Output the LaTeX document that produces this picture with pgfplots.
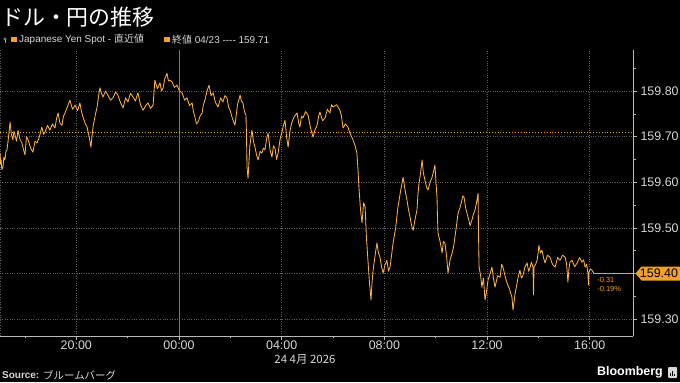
\documentclass[border=0pt]{standalone}
\usepackage{fontspec}
\setmainfont{Liberation Sans}
\newfontfamily\jp{Noto Sans CJK JP}
\usepackage{pgfplots}
\pgfplotsset{compat=1.18}
\definecolor{lineor}{RGB}{252,176,72}
\definecolor{boxor}{RGB}{243,160,40}
\definecolor{gridc}{RGB}{95,95,95}
\definecolor{zeroc}{RGB}{120,120,120}
\definecolor{axisc}{RGB}{185,185,185}
\definecolor{txt}{RGB}{215,215,215}
\begin{document}
\begin{tikzpicture}[x=1bp,y=1bp]
\useasboundingbox (0,0) rectangle (680,382);
\fill[black] (0,0) rectangle (680,382);
\begin{axis}[
  at={(0bp,46bp)}, anchor=south west,
  width=633bp, height=286bp, scale only axis,
  xmin=-6.973, xmax=17.686, ymin=159.263, ymax=159.890,
  axis x line*=bottom, axis y line*=right,
  axis line style={draw=axisc, line width=0.8bp, -},
  tick align=outside,
  major tick length=4bp, minor tick length=2.5bp,
  tick style={draw=axisc, line width=0.6bp},
  xtick={-4,0,4,8,12,16},
  xticklabels={20:00,00:00,04:00,08:00,12:00,16:00},
  minor xtick={-6,-2,2,6,10,14},
  ytick={159.3,159.4,159.5,159.6,159.7,159.8},
  yticklabels={159.30,{},159.50,159.60,159.70,159.80},
  minor ytick={159.35,159.45,159.55,159.65,159.75,159.85},
  grid=major,
  major grid style={draw=gridc, dotted, line width=0.6bp},
  ticklabel style={font=\fontsize{12.5}{13}\selectfont, text=txt},
  xticklabel style={yshift=2.5bp},
  clip=false,
]
\addplot[gridc, dotted, line width=0.6bp] coordinates {(-6.95,159.263)(-6.95,159.890)};
\addplot[zeroc, line width=0.6bp] coordinates {(0,159.263)(0,159.890)};
\addplot[boxor, dotted, line width=0.9bp] coordinates {(-6.973,159.71)(17.686,159.71)};
\addplot[boxor, line width=0.8bp] coordinates {(16.17,159.40)(17.686,159.40)};
\addplot[lineor, line width=0.85bp, line join=round] table {
-6.97 159.664
-6.95 159.640
-6.93 159.649
-6.90 159.628
-6.86 159.633
-6.82 159.655
-6.78 159.649
-6.74 159.668
-6.70 159.671
-6.64 159.700
-6.58 159.732
-6.53 159.705
-6.47 159.693
-6.43 159.712
-6.39 159.704
-6.33 159.690
-6.27 159.714
-6.20 159.695
-6.12 159.686
-6.06 159.672
-6.00 159.660
-5.94 159.700
-5.88 159.693
-5.78 159.675
-5.69 159.666
-5.61 159.690
-5.53 159.686
-5.44 159.700
-5.34 159.721
-5.28 159.705
-5.22 159.710
-5.12 159.725
-5.03 159.714
-4.93 159.728
-4.83 159.719
-4.77 159.740
-4.71 159.752
-4.64 159.730
-4.56 159.725
-4.50 159.745
-4.44 159.752
-4.35 159.765
-4.25 159.780
-4.15 159.760
-4.05 159.769
-3.95 159.757
-3.86 159.774
-3.80 159.755
-3.74 159.743
-3.66 159.730
-3.58 159.721
-3.50 159.700
-3.43 159.677
-3.39 159.700
-3.35 159.721
-3.27 159.745
-3.19 159.765
-3.13 159.790
-3.08 159.807
-3.02 159.795
-2.96 159.787
-2.86 159.800
-2.77 159.791
-2.67 159.780
-2.57 159.785
-2.47 159.798
-2.38 159.791
-2.28 159.775
-2.18 159.763
-2.08 159.785
-1.99 159.776
-1.89 159.795
-1.79 159.787
-1.70 159.778
-1.60 159.796
-1.50 159.770
-1.40 159.758
-1.30 159.768
-1.21 159.774
-1.11 159.762
-1.01 159.769
-0.97 159.800
-0.94 159.824
-0.84 159.805
-0.74 159.818
-0.68 159.800
-0.62 159.807
-0.55 159.828
-0.47 159.839
-0.41 159.822
-0.35 159.824
-0.27 159.820
-0.18 159.808
-0.08 159.813
0.02 159.800
0.12 159.796
0.22 159.780
0.31 159.785
0.41 159.768
0.51 159.774
0.56 159.755
0.62 159.743
0.68 159.728
0.74 159.732
0.82 159.745
0.90 159.752
0.95 159.770
1.01 159.780
1.09 159.800
1.17 159.813
1.25 159.790
1.33 159.796
1.42 159.775
1.52 159.765
1.62 159.785
1.71 159.776
1.79 159.790
1.87 159.785
1.93 159.765
1.99 159.758
2.08 159.740
2.18 159.725
2.28 159.770
2.38 159.791
2.43 159.778
2.49 159.774
2.55 159.755
2.61 159.747
2.63 159.700
2.65 159.633
2.67 159.620
2.69 159.609
2.76 159.680
2.84 159.714
2.90 159.690
2.96 159.677
3.02 159.660
3.08 159.649
3.16 159.668
3.23 159.664
3.29 159.675
3.35 159.671
3.41 159.695
3.47 159.708
3.55 159.670
3.62 159.655
3.68 159.680
3.74 159.675
3.80 159.650
3.86 159.664
3.94 159.695
4.01 159.710
4.07 159.725
4.13 159.736
4.19 159.700
4.25 159.677
4.33 159.715
4.40 159.732
4.50 159.745
4.60 159.752
4.66 159.730
4.71 159.721
4.77 159.745
4.83 159.741
4.93 159.755
5.03 159.747
5.12 159.720
5.22 159.699
5.30 159.715
5.38 159.725
5.44 159.745
5.49 159.754
5.59 159.735
5.69 159.741
5.78 159.760
5.88 159.752
5.94 159.770
6.00 159.765
6.14 159.770
6.27 159.758
6.33 159.745
6.39 159.719
6.48 159.728
6.58 159.721
6.68 159.705
6.78 159.693
6.86 159.680
6.93 159.664
6.97 159.630
7.01 159.589
7.07 159.540
7.13 159.511
7.19 159.555
7.25 159.546
7.30 159.480
7.36 159.429
7.42 159.380
7.48 159.342
7.52 159.380
7.56 159.407
7.64 159.440
7.71 159.467
7.77 159.445
7.83 159.436
7.89 159.415
7.95 159.401
8.03 159.420
8.10 159.429
8.16 159.405
8.22 159.414
8.28 159.440
8.34 159.467
8.44 159.500
8.53 159.546
8.63 159.580
8.73 159.611
8.80 159.585
8.88 159.561
8.94 159.540
9.00 159.524
9.06 159.505
9.12 159.495
9.20 159.520
9.27 159.539
9.31 159.575
9.35 159.598
9.41 159.620
9.47 159.649
9.52 159.620
9.58 159.605
9.64 159.590
9.70 159.583
9.78 159.600
9.86 159.611
9.92 159.625
9.97 159.638
10.01 159.600
10.05 159.568
10.07 159.520
10.09 159.489
10.17 159.470
10.25 159.445
10.30 159.470
10.36 159.467
10.42 159.440
10.48 159.401
10.56 159.430
10.64 159.445
10.70 159.460
10.75 159.480
10.81 159.505
10.87 159.532
10.95 159.545
11.02 159.561
11.06 159.570
11.10 159.568
11.18 159.540
11.26 159.524
11.34 159.505
11.41 159.517
11.47 159.530
11.53 159.539
11.59 159.555
11.65 159.576
11.67 159.480
11.69 159.414
11.75 159.395
11.80 159.370
11.86 159.390
11.92 159.342
11.98 159.360
12.04 159.386
12.12 159.400
12.19 159.414
12.25 159.390
12.31 159.370
12.41 159.395
12.51 159.392
12.57 159.420
12.62 159.414
12.70 159.395
12.78 159.379
12.88 159.365
12.97 159.348
13.01 159.320
13.09 159.355
13.17 159.379
13.22 159.395
13.28 159.407
13.34 159.390
13.40 159.396
13.48 159.415
13.56 159.423
13.62 159.405
13.67 159.412
13.73 159.425
13.79 159.414
13.81 159.353
13.83 159.414
13.89 159.420
13.95 159.429
13.99 159.445
14.02 159.462
14.08 159.445
14.14 159.451
14.20 159.435
14.26 159.423
14.35 159.440
14.45 159.436
14.55 159.420
14.65 159.414
14.75 159.435
14.84 159.429
14.94 159.440
15.04 159.436
15.10 159.420
15.15 159.381
15.19 159.410
15.23 159.425
15.31 159.429
15.41 159.415
15.51 159.423
15.60 159.435
15.70 159.425
15.76 159.430
15.82 159.414
15.88 159.420
15.93 159.401
15.95 159.375
15.97 159.403
16.03 159.410
16.09 159.407
16.17 159.400
};
\coordinate (lv) at (axis cs:17.686,159.40);
\coordinate (ep) at (axis cs:16.17,159.40);
\end{axis}
% last value box
\fill[boxor] ([xshift=2.5bp]lv) -- ([xshift=8.5bp,yshift=7bp]lv) -- ([yshift=7bp]lv -| 680,0) -- ([yshift=-7bp]lv -| 680,0) -- ([xshift=8.5bp,yshift=-7bp]lv) -- cycle;
\node[anchor=center, text=black, font=\fontsize{12.5}{13}\selectfont] at ([xshift=26bp]lv) {159.40};
\node[anchor=west, text=boxor, font=\fontsize{7.5}{8}\selectfont, inner sep=0] at ([xshift=3bp,yshift=-6bp]ep) {-0.31};
\node[anchor=west, text=boxor, font=\fontsize{7.5}{8}\selectfont, inner sep=0] at ([xshift=3bp,yshift=-15bp]ep) {-0.19\%};
% date label
\node[text=txt, font=\jp\fontsize{11.5}{12}\selectfont, inner sep=0] at (305,23) {24 4月 2026};
% title
\node[anchor=west, text=white, font=\jp\fontsize{22}{24}\selectfont, inner sep=0] at (1,365) {ドル・円の推移};
% legend
\draw[gray!70, line width=0.6] (5,343) circle (1.2);
\draw[gray!70, line width=0.6] (5,341.8) -- (5,339);
\fill[boxor] (11,340) rectangle (16.5,345.5);
\node[anchor=west, text=txt, font=\fontsize{10}{11}\selectfont, inner sep=0] at (19,342.5) {Japanese Yen Spot - {\jp 直近値}};
\fill[boxor] (164,340) rectangle (169.5,345.5);
\node[anchor=west, text=txt, font=\fontsize{10}{11}\selectfont, inner sep=0] at (172,342.5) {{\jp 終値} 04/23 -{}-{}-{}- 159.71};
% source
\node[anchor=west, text=txt, font=\bfseries\fontsize{10}{11}\selectfont, inner sep=0] at (2,7) {Source:};
\node[anchor=west, text=txt, font=\jp\fontsize{10.5}{11}\selectfont, inner sep=0] at (43,7) {ブルームバーグ};
\node[anchor=east, text=white, font=\bfseries\fontsize{12.5}{13}\selectfont, inner sep=0] at (663,10) {Bloomberg};
\fill[white!85!black, rounded corners=1] (668,4) rectangle (677,15);
\fill[black] (670,6) rectangle (671,9);
\fill[black] (672.2,6) rectangle (673.2,11);
\fill[black] (674.4,6) rectangle (675.4,8);
\end{tikzpicture}
\end{document}
